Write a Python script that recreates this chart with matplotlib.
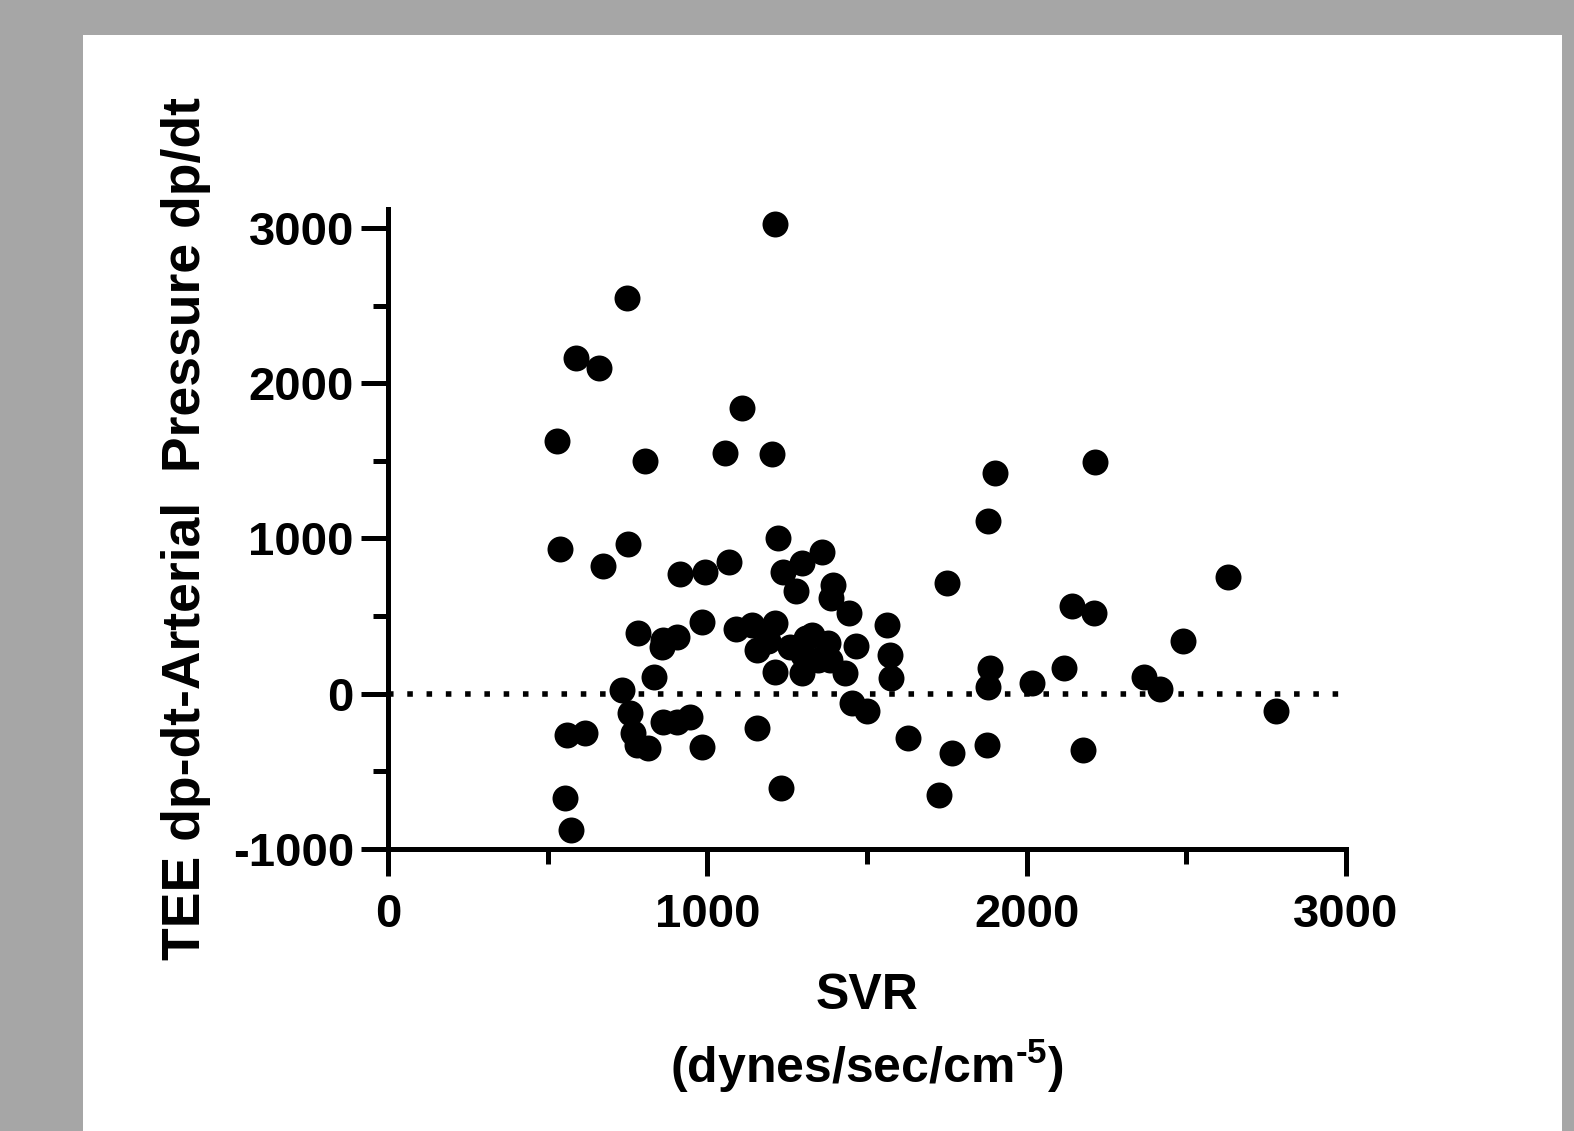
import matplotlib
matplotlib.use("Agg")
import matplotlib.pyplot as plt
from matplotlib.patches import Rectangle
from matplotlib.ticker import MultipleLocator

# SVR (dynes/sec/cm-5) vs TEE dp/dt - arterial pressure dp/dt
svr = [
    1212, 747, 589, 661, 528, 806, 1107, 1055, 1202,
    539, 672, 752, 913, 993, 1067, 1222, 1238, 1296, 1278, 1358,
    1393, 1388, 1444, 1750,
    784, 862, 904, 857, 982, 833, 732, 758, 768, 779, 815,
    560, 617, 862, 904, 945, 982, 1154, 1231, 553, 572,
    1562, 1571, 1575, 1452, 1500, 1627, 1766, 1727, 1466, 1431,
    1878, 1901, 2213, 2141, 2212, 2631, 2488, 1885, 1880, 2016,
    2117, 2366, 2416, 2781, 1877, 2175,
    1090, 1140, 1212, 1154, 1190, 1212, 1259, 1296, 1327, 1300,
    1379, 1348, 1384, 1310,
]
diff = [
    3024, 2547, 2165, 2100, 1630, 1501, 1839, 1548, 1544,
    930, 825, 962, 769, 786, 851, 1005, 786, 840, 664, 915,
    700, 615, 518, 711,
    393, 346, 367, 303, 464, 110, 24, -126, -255, -330, -351,
    -266, -255, -180, -180, -148, -341, -219, -609, -673, -878,
    443, 250, 99, -62, -109, -287, -381, -652, 307, 131,
    1110, 1420, 1495, 565, 522, 750, 342, 164, 45, 71,
    164, 110, 31, -109, -330, -362,
    420, 445, 454, 282, 340, 142, 303, 131, 378, 250,
    325, 217, 217, 360,
]

x_ticks = [0, 1000, 2000, 3000]
y_ticks = [-1000, 0, 1000, 2000, 3000]

plt.rcParams.update({
    "font.family": ["Liberation Sans", "DejaVu Sans"],
    "font.weight": "bold",
    "axes.unicode_minus": False,
    "mathtext.fontset": "custom",
    "mathtext.rm": "Liberation Sans:bold",
    "mathtext.it": "Liberation Sans:bold",
    "mathtext.bf": "Liberation Sans:bold",
})

W, H = 1574, 1131
fig = plt.figure(figsize=(W / 100, H / 100), dpi=100, facecolor="#a6a6a6")

# white panel inside the grey frame
fig.patches.append(Rectangle((83 / W, 0), (1562 - 83) / W, 1 - 35 / H,
                             transform=fig.transFigure, facecolor="white",
                             edgecolor="none", zorder=-10))

ax = fig.add_axes([388 / W, 1 - 849 / H, (1346 - 388) / W, (849 - 209) / H])
ax.set_zorder(5)
ax.set_facecolor("none")

ax.plot(svr, diff, "o", color="black", ms=18.7, mew=0, zorder=3, clip_on=False)
ax.plot([0, 3000], [0, 0], color="black", linewidth=4,
        linestyle=(0, (1, 2.47)), dash_capstyle="butt", zorder=2)

ax.set_xlim(0, 3000)
ax.set_ylim(-1000, 3122)
ax.set_xticks(x_ticks)
ax.set_yticks(y_ticks)
ax.xaxis.set_minor_locator(MultipleLocator(500))
ax.yaxis.set_minor_locator(MultipleLocator(500))

for side in ("top", "right"):
    ax.spines[side].set_visible(False)
for side in ("left", "bottom"):
    ax.spines[side].set_linewidth(3.6)

ax.tick_params(which="major", length=19.5, width=3.6, labelsize=34)
ax.tick_params(which="minor", length=10.5, width=3.6)
ax.tick_params(axis="x", which="major", pad=12)
ax.tick_params(axis="y", which="major", pad=5)
for lab in ax.get_xticklabels() + ax.get_yticklabels():
    lab.set_fontweight("bold")

cx = (388 + 1346) / 2 / W
fig.text(cx, 1 - 996 / H, "SVR", ha="center", va="center",
         fontsize=36, fontweight="bold")
fig.text(cx, 1 - 1066 / H, r"(dynes/sec/cm$^{\text{-5}}$)", ha="center", va="center",
         fontsize=36, fontweight="bold")
fig.text(186 / W, 1 - 529 / H, "TEE dp-dt-Arterial  Pressure dp/dt",
         rotation=90, ha="center", va="center", fontsize=38.5, fontweight="bold")

fig.savefig("out.png", dpi=100, facecolor=fig.get_facecolor())
